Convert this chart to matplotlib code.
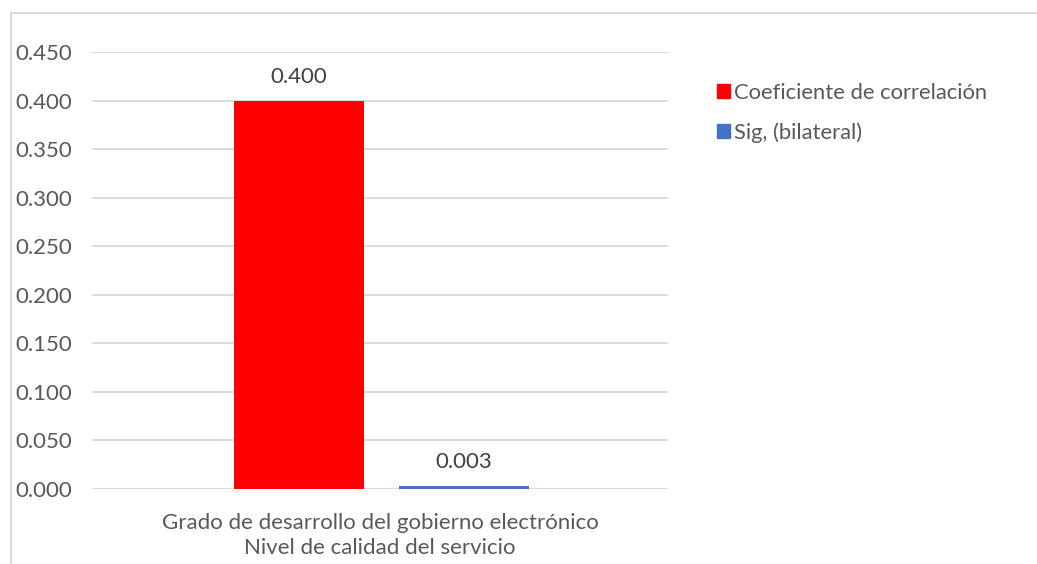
import matplotlib
matplotlib.use("Agg")
import matplotlib.pyplot as plt
from matplotlib.lines import Line2D
from matplotlib.patches import Patch

plt.rcParams['font.family'] = ['Lato', 'DejaVu Sans']

# data
series = ["Coeficiente de correlación", "Sig, (bilateral)"]
values = [0.400, 0.003]
colors = ["#FF0000", "#4472C4"]
category = "Grado de desarrollo del gobierno electrónico\nNivel de calidad del servicio"
offsets = [-0.1406, 0.1458]
bar_w = 0.2257
text_col = "#595959"

W, H = 1037, 564
fig = plt.figure(figsize=(W / 100, H / 100), dpi=100)
ax = fig.add_axes([92 / W, 1 - 489 / H, (668 - 92) / W, (489 - 52) / H])

for s, v, c, o in zip(series, values, colors, offsets):
    ax.bar(o, v, width=bar_w, color=c, label=s, zorder=3)
    ax.text(o, v + 0.014, f"{v:.3f}", ha="center", va="bottom",
            fontsize=16, color="#404040")

ax.set_xlim(-0.5, 0.5)
ax.set_ylim(0, 0.45)
ax.set_yticks([i * 0.05 for i in range(10)])
ax.set_yticklabels([f"{i * 0.05:.3f}" for i in range(10)], fontsize=16, color=text_col)
ax.tick_params(axis="y", length=0, pad=55.5)
for lab in ax.get_yticklabels():
    lab.set_horizontalalignment("left")
ax.set_xticks([0])
ax.set_xticklabels([category], fontsize=16, color=text_col, linespacing=1.35)
ax.tick_params(axis="x", length=0, pad=17)
ax.grid(axis="y", color="#D9D9D9", linewidth=1.3, zorder=0)
for sp in ax.spines.values():
    sp.set_visible(False)

# Excel-like chart border (top and left visible)
fig.add_artist(Line2D([11 / W, 1.0], [1 - 13 / H, 1 - 13 / H], color="#D9D9D9", lw=1.3))
fig.add_artist(Line2D([11 / W, 11 / W], [0, 1 - 13 / H], color="#D9D9D9", lw=1.3))

handles = [Patch(color=c) for c in colors]
fig.legend(handles, series, loc="upper left", bbox_to_anchor=(697 / W, 1 - 63 / H),
           frameon=False, fontsize=15.8, handlelength=0.6, handleheight=0.6,
           handletextpad=0.2, labelspacing=0.9, labelcolor=text_col)

fig.savefig("out.png", dpi=100)
